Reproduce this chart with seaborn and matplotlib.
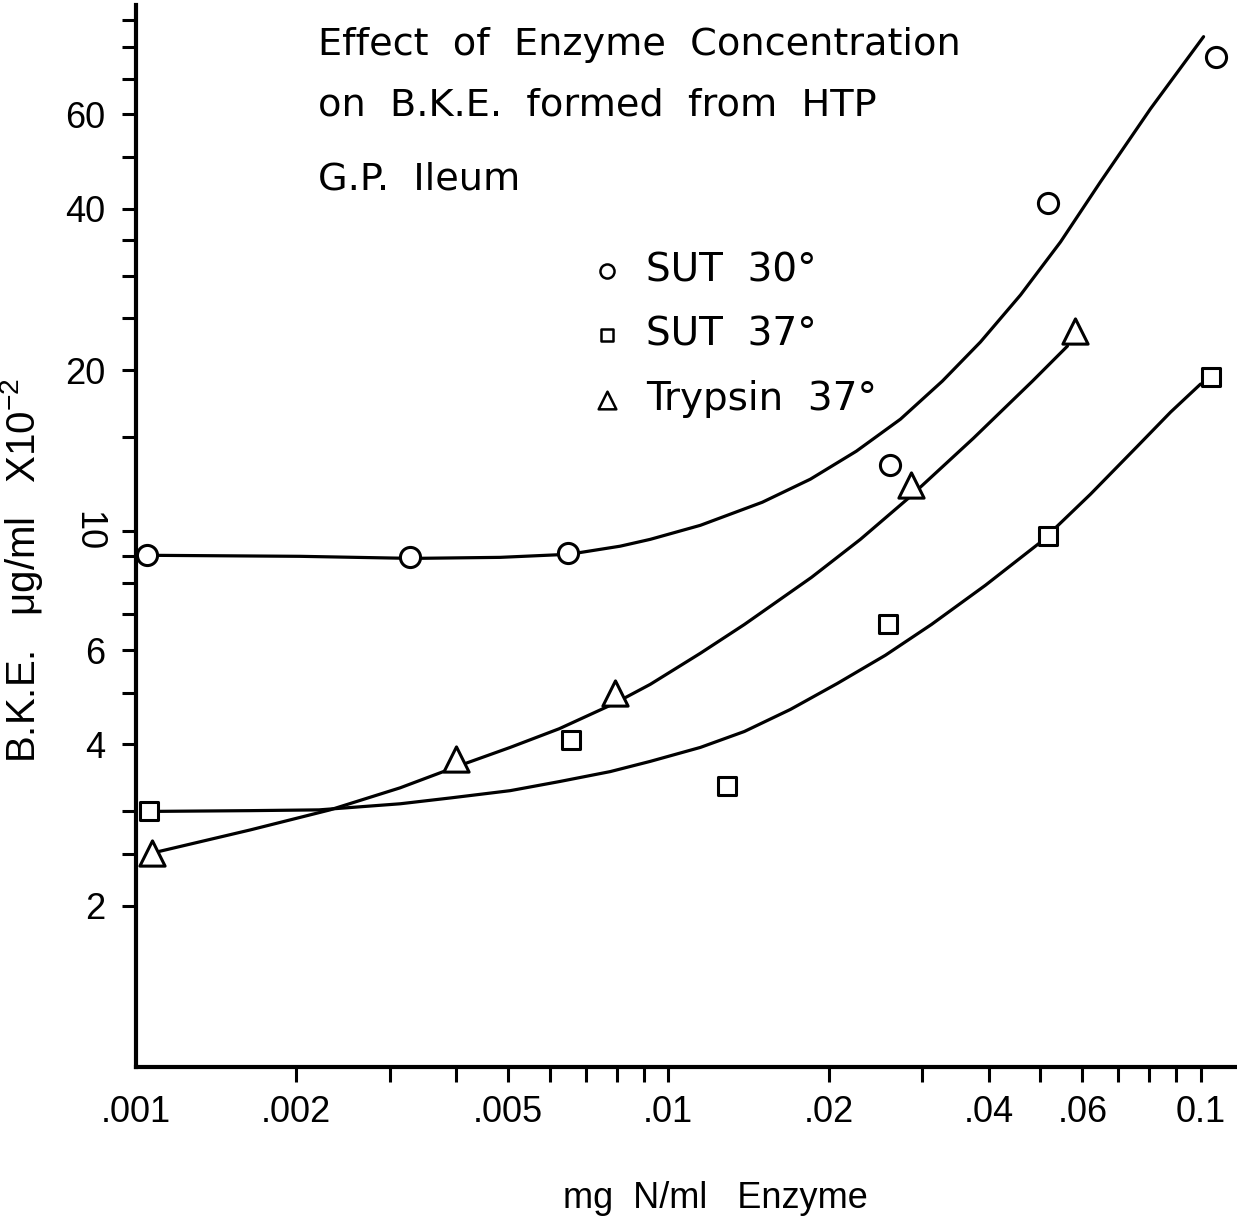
import numpy as np
import pandas as pd
import matplotlib
matplotlib.use("Agg")
import matplotlib.pyplot as plt
import seaborn as sns

# ---------------- data ----------------
series_names = ["SUT  30°", "SUT  37°", "Trypsin  37°"]

# measured points
sut30_x = [0.00105, 0.00327, 0.00649, 0.0261, 0.0516, 0.107]
sut30_y = [9.02, 8.94, 9.10, 13.3, 41.0, 76.9]

sut37_x = [0.00106, 0.00657, 0.0129, 0.0259, 0.0516, 0.1048]
sut37_y = [3.00, 4.08, 3.34, 6.70, 9.79, 19.4]

tryp_x = [0.00107, 0.0040, 0.00795, 0.0286, 0.0582]
tryp_y = [2.51, 3.75, 4.98, 12.2, 23.7]

# hand-drawn fitted curves
sut30_curve_x = [0.001053, 0.002034, 0.003302, 0.004833, 0.006515, 0.008122, 0.009252,
                 0.01149, 0.01502, 0.01849, 0.02256, 0.0273, 0.03273, 0.03859, 0.04589,
                 0.05457, 0.06486, 0.08054, 0.1013]
sut30_curve_y = [9.02, 8.98, 8.90, 8.94, 9.06, 9.38, 9.66,
                 10.26, 11.33, 12.51, 14.11, 16.19, 19.07, 22.56, 27.61,
                 34.69, 44.91, 61.49, 83.8]

sut37_curve_x = [0.001062, 0.001638, 0.002208, 0.003135, 0.003909, 0.005047, 0.006239,
                 0.00778, 0.009252, 0.01149, 0.0139, 0.01696, 0.02078, 0.02558, 0.03122,
                 0.03943, 0.05003, 0.06212, 0.07613, 0.08784, 0.100]
sut37_curve_y = [3.00, 3.01, 3.02, 3.10, 3.18, 3.28, 3.41,
                 3.56, 3.72, 3.95, 4.23, 4.65, 5.20, 5.87, 6.70,
                 7.93, 9.54, 11.73, 14.42, 16.69, 18.83]

tryp_curve_x = [0.001076, 0.001638, 0.002315, 0.003135, 0.004012, 0.005047, 0.006239,
                0.007915, 0.009252, 0.01149, 0.0139, 0.01857, 0.02296, 0.02826, 0.03744,
                0.04833, 0.05623]
tryp_curve_y = [2.51, 2.77, 3.02, 3.32, 3.64, 3.95, 4.28,
                4.77, 5.18, 5.92, 6.70, 8.20, 9.66, 11.53, 14.92,
                19.07, 22.17]

x_major = [0.001, 0.002, 0.005, 0.01, 0.02, 0.04, 0.06, 0.1]
x_major_labels = [".001", ".002", ".005", ".01", ".02", ".04", ".06", "0.1"]
x_minor = [0.003, 0.004, 0.006, 0.007, 0.008, 0.009, 0.03, 0.05, 0.07, 0.08, 0.09]

y_major = [2, 4, 6, 10, 20, 40, 60]
y_major_labels = ["2", "4", "6", "10", "20", "40", "60"]
y_minor = [2.5, 3, 5, 7, 8, 9, 15, 25, 30, 35, 50, 70, 80, 90]

title_lines = ["Effect  of  Enzyme  Concentration",
               "on  B.K.E.  formed  from  HTP",
               "G.P.  Ileum"]

# ---------------- style ----------------
sns.set_theme(style="ticks")
plt.rcParams["font.family"] = ["Liberation Sans", "DejaVu Sans"]
plt.rcParams["mathtext.fontset"] = "custom"
plt.rcParams["mathtext.rm"] = "Liberation Sans"
plt.rcParams["mathtext.it"] = "Liberation Sans"
for key in ["text.color", "axes.labelcolor", "xtick.color", "ytick.color", "axes.edgecolor"]:
    plt.rcParams[key] = "black"

fig = plt.figure(figsize=(12.37, 12.31), dpi=100)
ax = fig.add_axes([0.1099, 0.1332, 0.8884, 0.8627])
ax.set_xscale("log")
ax.set_yscale("log")

curves = pd.DataFrame({
    "x": sut30_curve_x + sut37_curve_x + tryp_curve_x,
    "y": sut30_curve_y + sut37_curve_y + tryp_curve_y,
    "series": [series_names[0]] * len(sut30_curve_x)
              + [series_names[1]] * len(sut37_curve_x)
              + [series_names[2]] * len(tryp_curve_x),
})
points = pd.DataFrame({
    "x": sut30_x + sut37_x + tryp_x,
    "y": sut30_y + sut37_y + tryp_y,
    "series": [series_names[0]] * len(sut30_x)
              + [series_names[1]] * len(sut37_x)
              + [series_names[2]] * len(tryp_x),
})

for name in series_names:
    sub = curves[curves["series"] == name]
    sns.lineplot(data=sub, x="x", y="y", ax=ax, color="black", linewidth=2.3,
                 estimator=None, sort=False, legend=False,
                 solid_joinstyle="round", solid_capstyle="round")

marker_map = {series_names[0]: "o", series_names[1]: "s", series_names[2]: "^"}
size_map = {series_names[0]: 210, series_names[1]: 170, series_names[2]: 330}
for name in series_names:
    sub = points[points["series"] == name]
    sns.scatterplot(data=sub, x="x", y="y", ax=ax, marker=marker_map[name],
                    s=size_map[name], facecolor="white", edgecolor="black",
                    linewidth=2.2, label=name, clip_on=False, zorder=5)

ax.set_xlim(0.001, 0.116)
ax.set_ylim(1, 96)

# axes / ticks
for side in ["top", "right"]:
    ax.spines[side].set_visible(False)
for side in ["left", "bottom"]:
    ax.spines[side].set_linewidth(3.0)
    ax.spines[side].set_color("black")

ax.set_xticks(x_major, labels=x_major_labels)
ax.set_xticks(x_minor, minor=True)
ax.set_xticklabels([], minor=True)
ax.set_yticks(y_major, labels=y_major_labels)
ax.set_yticks(y_minor, minor=True)
ax.set_yticklabels([], minor=True)

ax.tick_params(axis="x", which="both", direction="out", length=11, width=2.2,
               color="black", labelsize=26, pad=9, labelcolor="black")
ax.tick_params(axis="y", which="both", direction="out", length=10, width=2.2,
               color="black", labelsize=26, pad=12, labelcolor="black")
ax.get_xaxis().get_major_ticks()[0].tick1line.set_visible(False)
for lbl in ax.get_yticklabels():
    if lbl.get_text() == "10":
        lbl.set_rotation(270)
        lbl.set_verticalalignment("center")

ax.set_xlabel("mg  N/ml   Enzyme", fontsize=26, color="black")
ax.xaxis.set_label_coords(0.527, -0.107)
ax.set_ylabel(r"B.K.E.   $\mu$g/ml   X10$^{-2}$", fontsize=29, color="black")
ax.yaxis.set_label_coords(-0.083, 0.468)

# title block
ty = [0.9634, 0.9147, 0.8538]
for line, yy in zip(title_lines, ty):
    fig.text(0.257, yy, line, fontsize=27.5, va="center", ha="left", color="black",
             family=["DejaVu Sans"])

# legend
leg = ax.legend(loc="upper left", bbox_to_anchor=(0.397, 0.783), frameon=False,
                prop={"family": "DejaVu Sans", "size": 28},
                markerscale=0.7, handlelength=1.0, handletextpad=0.5,
                labelspacing=0.68, borderaxespad=0.0)
for h in leg.legend_handles:
    h.set_linewidth(1.8)
for t in leg.get_texts():
    t.set_color("black")

ax.grid(False)
fig.savefig("out.png", dpi=100, facecolor="white")
